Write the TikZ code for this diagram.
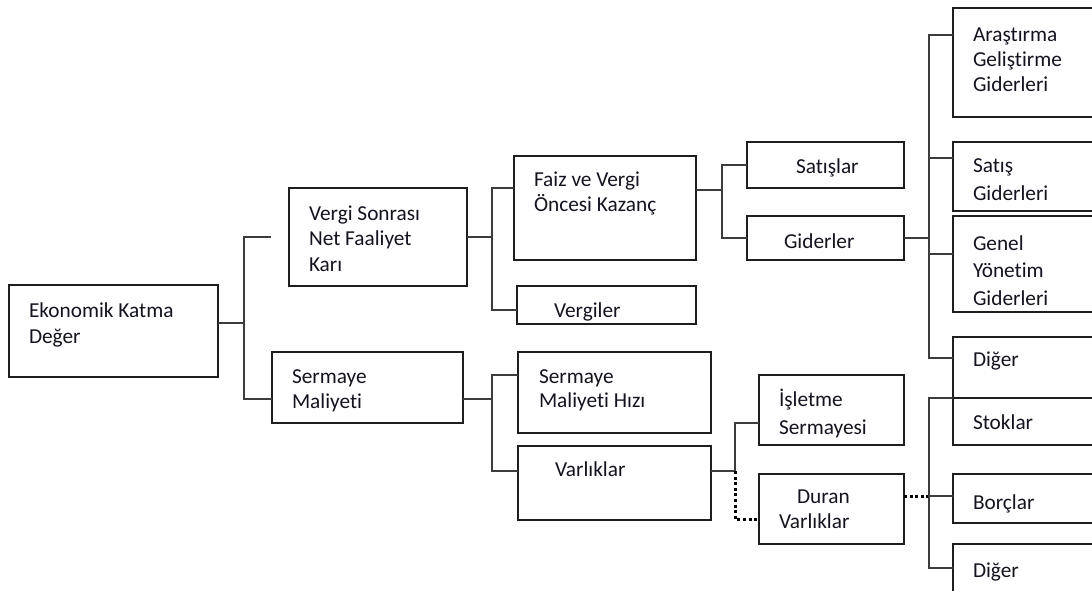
\documentclass[tikz,border=0pt]{standalone}
\usepackage{fontspec}
\setmainfont{Carlito}[Ligatures=NoCommon]
\definecolor{txtc}{RGB}{20,20,32}
\definecolor{boxc}{RGB}{30,30,30}
\definecolor{connc}{RGB}{60,60,60}
\newcommand\bx[5]{\node[box,minimum width={(#4-#2)*1pt},minimum height={(#5-#3)*1pt}] (#1) at (#2,#3) {};}
\newcommand\tx[5]{\node[txt] (#1) at (#2,#3) {\fontsize{21.3}{#4}\selectfont\parbox[t]{200pt}{\raggedright #5}};}
\begin{document}
\begin{tikzpicture}[x=1pt,y=-1pt,
  box/.style={draw=boxc,line width=1.3pt,inner sep=0pt,outer sep=0pt,anchor=north west,fill=none},
  conn/.style={draw=connc,line width=1.3pt},
  dots/.style={draw=black,line width=3pt,dash pattern=on 3pt off 2.6pt},
  txt/.style={anchor=base west,inner sep=0pt,outer sep=0pt,text=txtc}]
\useasboundingbox[fill=white] (0,0) rectangle (1092,591);
% boxes
\bx{ekd}{9}{285}{218}{377}
\bx{vs}{289}{188}{467}{286}
\bx{sm}{272}{352}{463}{423}
\bx{fvk}{514}{156}{696}{260}
\bx{vg}{517}{286}{696}{324}
\bx{sat}{747}{142}{904}{188}
\bx{gid}{747}{216}{904}{260}
\bx{smh}{518}{352}{711}{433}
\bx{var}{518}{446}{711}{520}
\bx{isl}{759}{375}{904}{445}
\bx{dur}{759}{474}{904}{544}
\bx{arge}{953}{8}{1100}{117}
\bx{sg}{953}{142}{1100}{211}
\bx{gy}{953}{216}{1100}{312}
\bx{dga}{953}{337}{1100}{398}
\bx{stk}{953}{398}{1100}{445}
\bx{brc}{953}{474}{1100}{523}
\bx{dgb}{953}{544}{1100}{600}
% texts
\tx{ekdT}{29}{317}{26}{Ekonomik Katma\\Değer}
\tx{vsT}{309}{220}{25.5}{Vergi Sonrası\\Net Faaliyet\\Karı}
\tx{smT}{292}{383}{25}{Sermaye\\Maliyeti}
\tx{fvkT}{534}{186}{25}{Faiz ve Vergi\\Öncesi Kazanç}
\tx{vgT}{554}{317}{25}{Vergiler}
\tx{satT}{796}{173}{25}{Satışlar}
\tx{gidT}{784}{248}{25}{Giderler}
\tx{smhT}{539}{383}{24.5}{Sermaye\\Maliyeti Hızı}
\tx{varT}{555}{476}{25}{Varlıklar}
\tx{islT}{779}{406}{28}{İşletme\\Sermayesi}
\tx{durT}{779}{503}{25}{\hspace*{18pt}Duran\\Varlıklar}
\tx{argeT}{973}{42}{25}{Araştırma\\Geliştirme\\Giderleri}
\tx{sgT}{973}{172}{28}{Satış\\Giderleri}
\tx{gyT}{973}{250}{27.5}{Genel\\Yönetim\\Giderleri}
\tx{dgaT}{973}{366}{25}{Diğer}
\tx{stkT}{973}{429}{25}{Stoklar}
\tx{brcT}{973}{509}{25}{Borçlar}
\tx{dgbT}{973}{577}{25}{Diğer}
% junction coordinates
\coordinate (c1) at (244,323);
\coordinate (c1t) at (271,237);
\coordinate (c1b) at (244,399);
\coordinate (c2) at (492,237);
\coordinate (c2t) at (492,188);
\coordinate (c2b) at (492,310);
\coordinate (c3) at (722,190);
\coordinate (c3t) at (722,165);
\coordinate (c3b) at (722,238);
\coordinate (c4) at (929,238);
\coordinate (c4a) at (929,35);
\coordinate (c4b) at (929,158);
\coordinate (c4c) at (929,254);
\coordinate (c4d) at (929,358);
\coordinate (c5) at (492,399);
\coordinate (c5t) at (492,375);
\coordinate (c5b) at (492,471);
\coordinate (c6) at (735,471);
\coordinate (c6t) at (735,423);
\coordinate (c6b) at (735,519);
\coordinate (c7) at (929,496);
\coordinate (c7t) at (929,398);
\coordinate (c7b) at (929,568);
% connectors
\draw[conn] (ekd.east |- c1) -- (c1);
\draw[conn] (c1t) -| (c1b) -- (sm.west |- c1b);
\draw[conn] (vs.east |- c2) -- (c2);
\draw[conn] (fvk.west |- c2t) -- (c2t) -- (c2b) -- (vg.west |- c2b);
\draw[conn] (fvk.east |- c3) -- (c3);
\draw[conn] (sat.west |- c3t) -- (c3t) -- (c3b) -- (gid.west |- c3b);
\draw[conn] (gid.east |- c4) -- (c4);
\draw[conn] (arge.west |- c4a) -- (c4a) -- (c4d) -- (dga.west |- c4d);
\draw[conn] (c4b) -- (sg.west |- c4b);
\draw[conn] (c4c) -- (gy.west |- c4c);
\draw[conn] (sm.east |- c5) -- (c5);
\draw[conn] (smh.west |- c5t) -- (c5t) -- (c5b) -- (var.west |- c5b);
\draw[conn] (var.east |- c6) -- (c6) -- (c6t) -- (isl.west |- c6t);
\draw[dots] (c6) -- (c6b) -- (dur.west |- c6b);
\draw[dots] (dur.east |- c7) -- (c7);
\draw[conn] (stk.north west) -- (c7t) -- (c7b) -- (dgb.west |- c7b);
\draw[conn] (c7) -- (brc.west |- c7);
\end{tikzpicture}
\end{document}
